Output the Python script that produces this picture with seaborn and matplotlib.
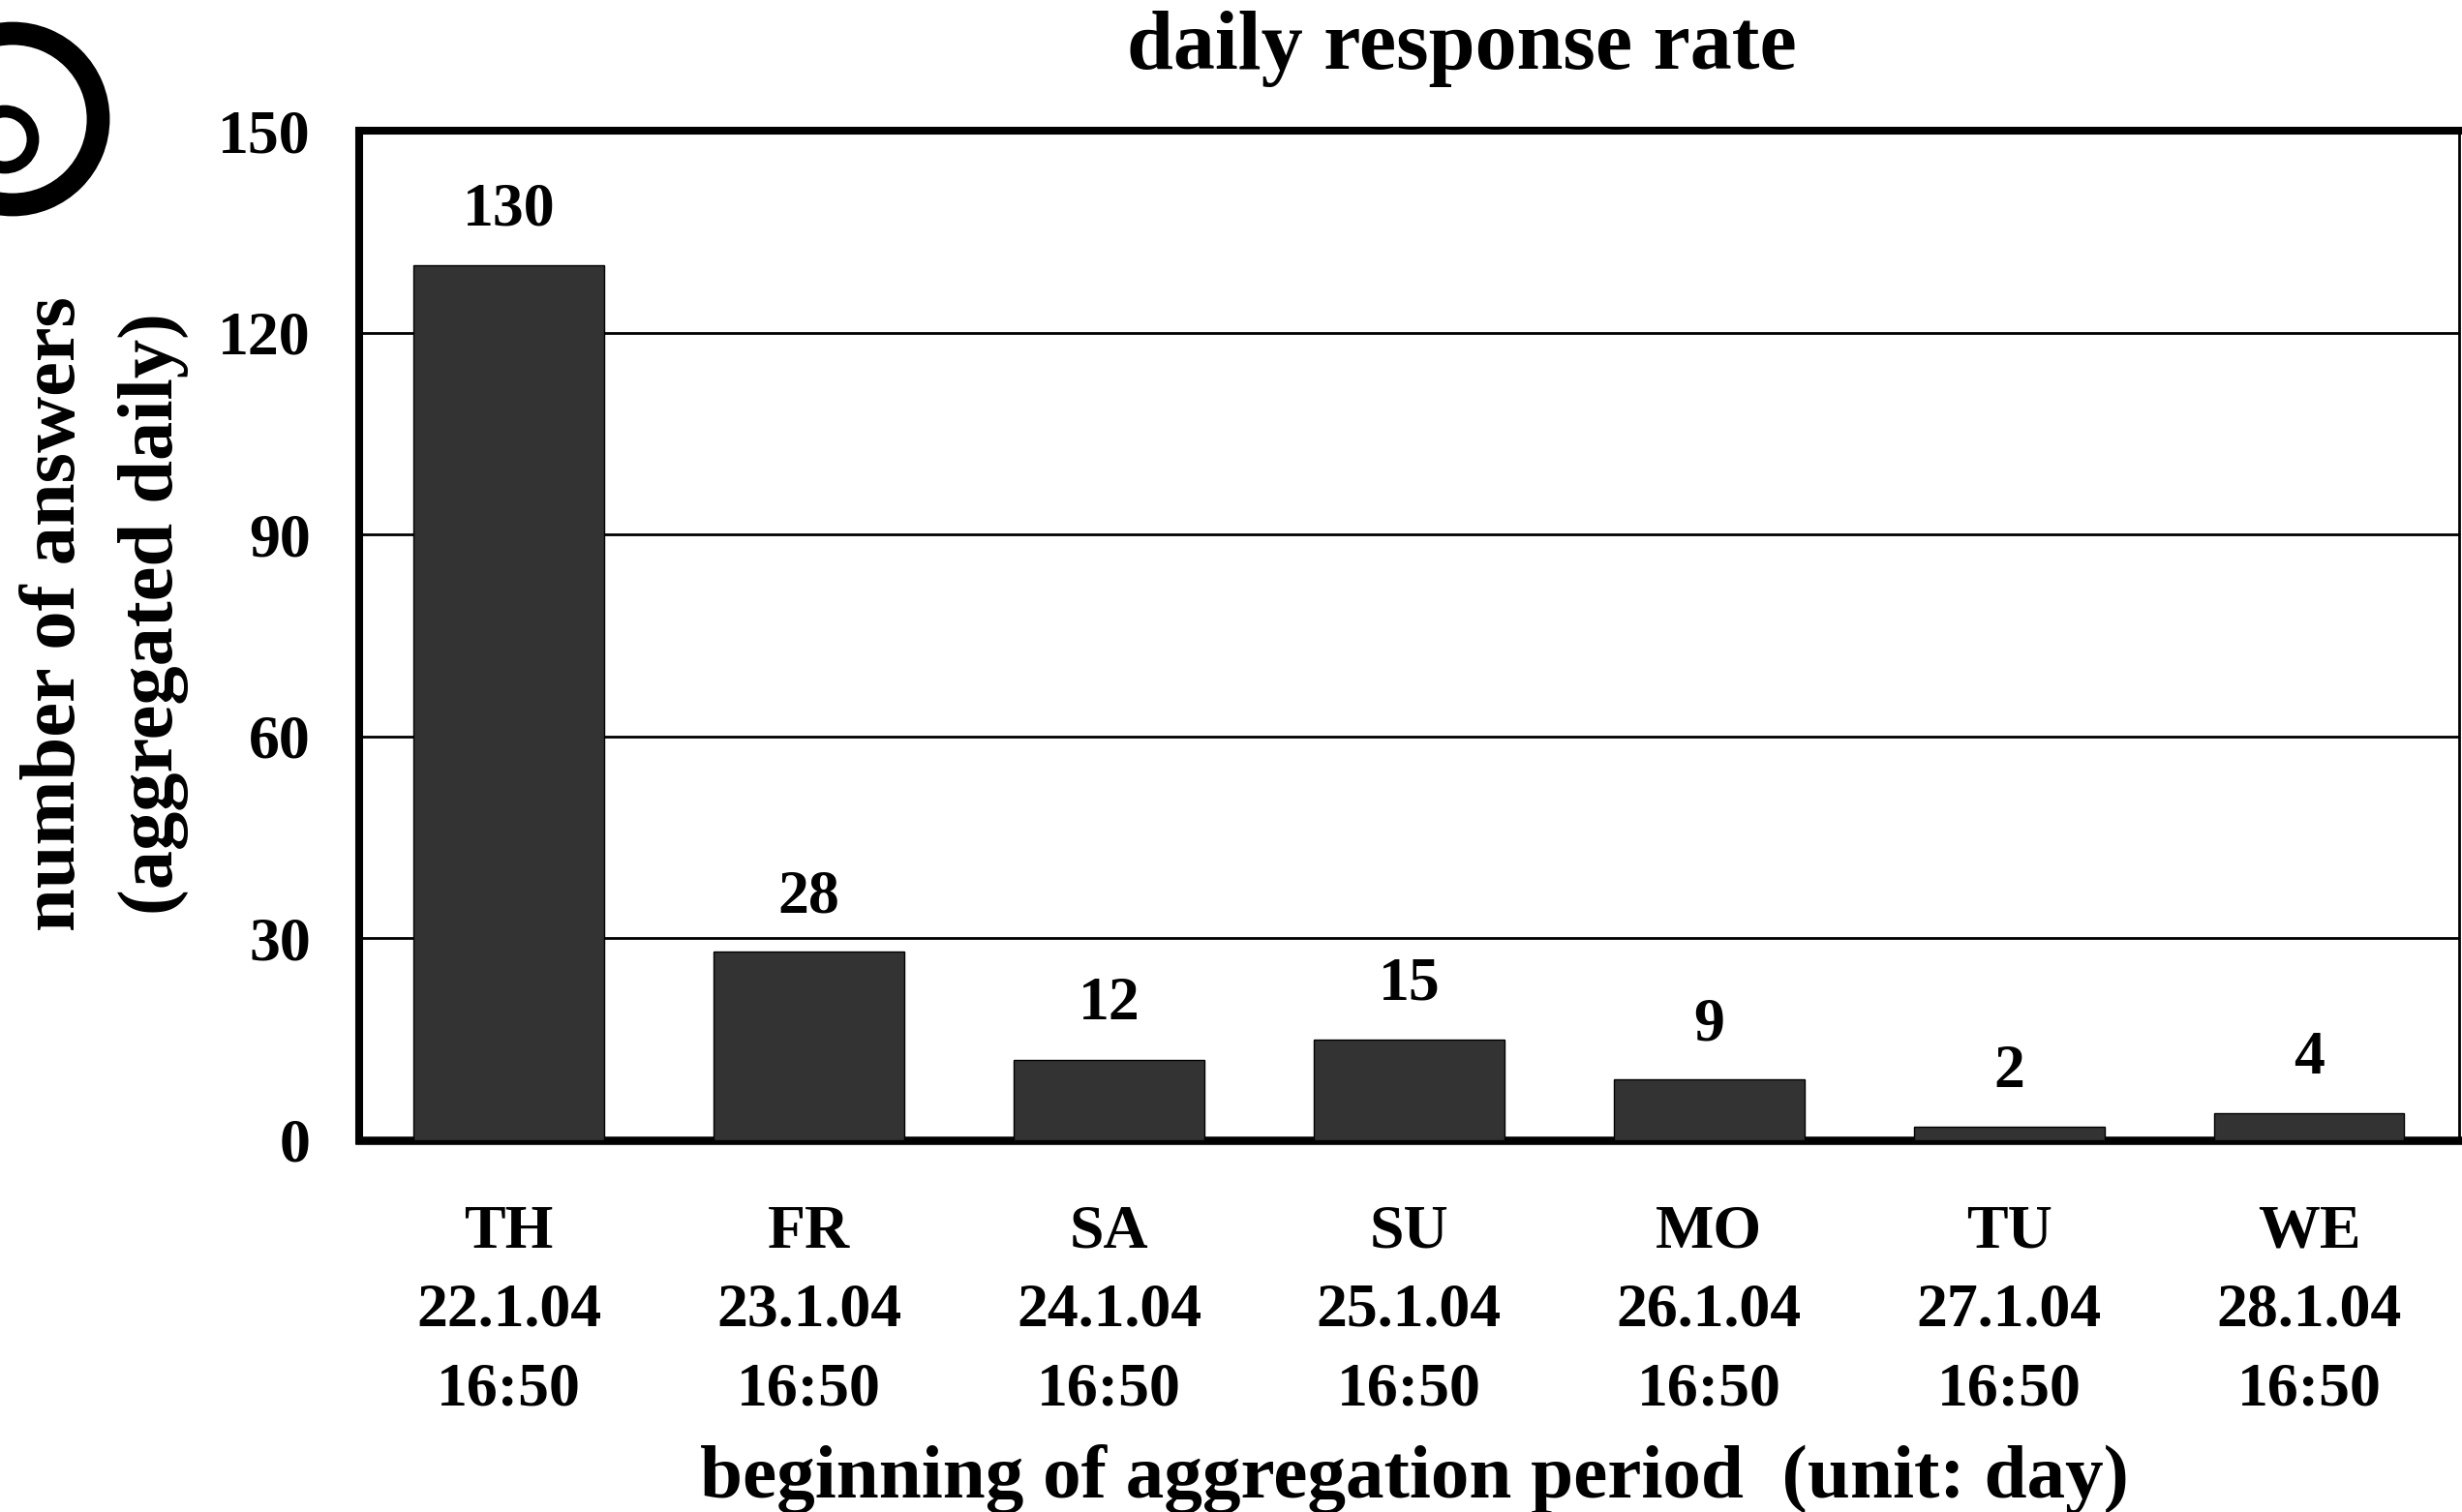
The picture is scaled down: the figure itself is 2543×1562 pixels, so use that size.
import numpy as np
import pandas as pd
import matplotlib
matplotlib.use("Agg")
import matplotlib.pyplot as plt
from matplotlib.patches import Annulus
import seaborn as sns

# ---- data ----
days = ["TH", "FR", "SA", "SU", "MO", "TU", "WE"]
dates = ["22.1.04", "23.1.04", "24.1.04", "25.1.04", "26.1.04", "27.1.04", "28.1.04"]
times = ["16:50", "16:50", "16:50", "16:50", "16:50", "16:50", "16:50"]
counts = [130, 28, 12, 15, 9, 2, 4]
y_major = [0, 30, 60, 90, 120, 150]

title = "daily response rate"
xlabel = "beginning of aggregation period  (unit: day)"
ylabel = "number of answers\n(aggregated daily)"

sns.set_style("white")
plt.rcParams["font.family"] = ["Liberation Serif", "DejaVu Serif"]
plt.rcParams["font.weight"] = "bold"
for key in ["text.color", "axes.labelcolor", "xtick.color", "ytick.color",
            "axes.edgecolor"]:
    plt.rcParams[key] = "black"

labels = [f"{d}\n{dt}\n{t}" for d, dt, t in zip(days, dates, times)]
df = pd.DataFrame({"label": labels, "count": counts})

fig = plt.figure(figsize=(12.715, 7.81), dpi=200)
ax = fig.add_axes([0.14577, 0.24584, 0.85305, 0.66773])

sns.barplot(data=df, x="label", y="count", color="#333333", saturation=1,
            edgecolor="black", linewidth=0.5, width=0.635, ax=ax, zorder=3)

ax.set_xlim(-0.5, len(days) - 0.5)
ax.set_ylim(0, 150)

TICK_FS = 23

# y ticks
ax.set_yticks(y_major)
ax.set_yticks(np.arange(0, 151, 5), minor=True)
ax.tick_params(axis="y", which="major", direction="inout", length=17, width=2.2,
               labelsize=TICK_FS, pad=9.5, color="black", labelcolor="black")
ax.tick_params(axis="y", which="minor", direction="in", length=7.2, width=2.0,
               color="black")

# x ticks: labels at centres, tick marks at boundaries
ax.set_xticks(range(len(days)))
ax.set_xticklabels(labels, linespacing=1.53)
ax.set_xticks(np.arange(-0.5, len(days), 1.0), minor=True)
ax.tick_params(axis="x", which="major", length=0, labelsize=TICK_FS, pad=24.0,
               labelcolor="black")
ax.tick_params(axis="x", which="minor", direction="inout", length=18, width=2.5,
               color="black")

# grid
ax.yaxis.grid(True, which="major", color="black", linewidth=1.0)
ax.xaxis.grid(False)
ax.set_axisbelow(True)

# spines
for side, lw in {"left": 2.9, "bottom": 3.1, "top": 2.9, "right": 1.0}.items():
    ax.spines[side].set_visible(True)
    ax.spines[side].set_color("black")
    ax.spines[side].set_linewidth(lw)

# value labels
for i, v in enumerate(counts):
    ax.annotate(str(v), xy=(i, v), xytext=(0, 14.8), textcoords="offset points",
                ha="center", va="baseline", fontsize=TICK_FS, fontweight="bold",
                color="black")

ax.set_title(title, fontsize=31, fontweight="bold", x=0.525, y=1.0615,
             va="baseline", pad=0, color="black")
ax.set_xlabel(xlabel, fontsize=28.5, fontweight="bold", va="baseline", color="black")
ax.xaxis.set_label_coords(0.5026, -0.3538)
ax.set_ylabel(ylabel, fontsize=29, fontweight="bold", linespacing=1.49,
              multialignment="center", color="black")
ax.yaxis.set_label_coords(-0.081, 0.5216)

# logo decoration in top-left corner (pixel coordinates)
lax = fig.add_axes([0, 0, 1, 1], zorder=-1)
lax.set_xlim(0, 2543)
lax.set_ylim(1562, 0)
lax.axis("off")
lax.add_patch(Annulus((13, 123), r=99, width=21, color="black"))
lax.add_patch(Annulus((5, 144), r=34, width=10, color="black"))

fig.savefig("out.png", dpi=200, facecolor="white")
